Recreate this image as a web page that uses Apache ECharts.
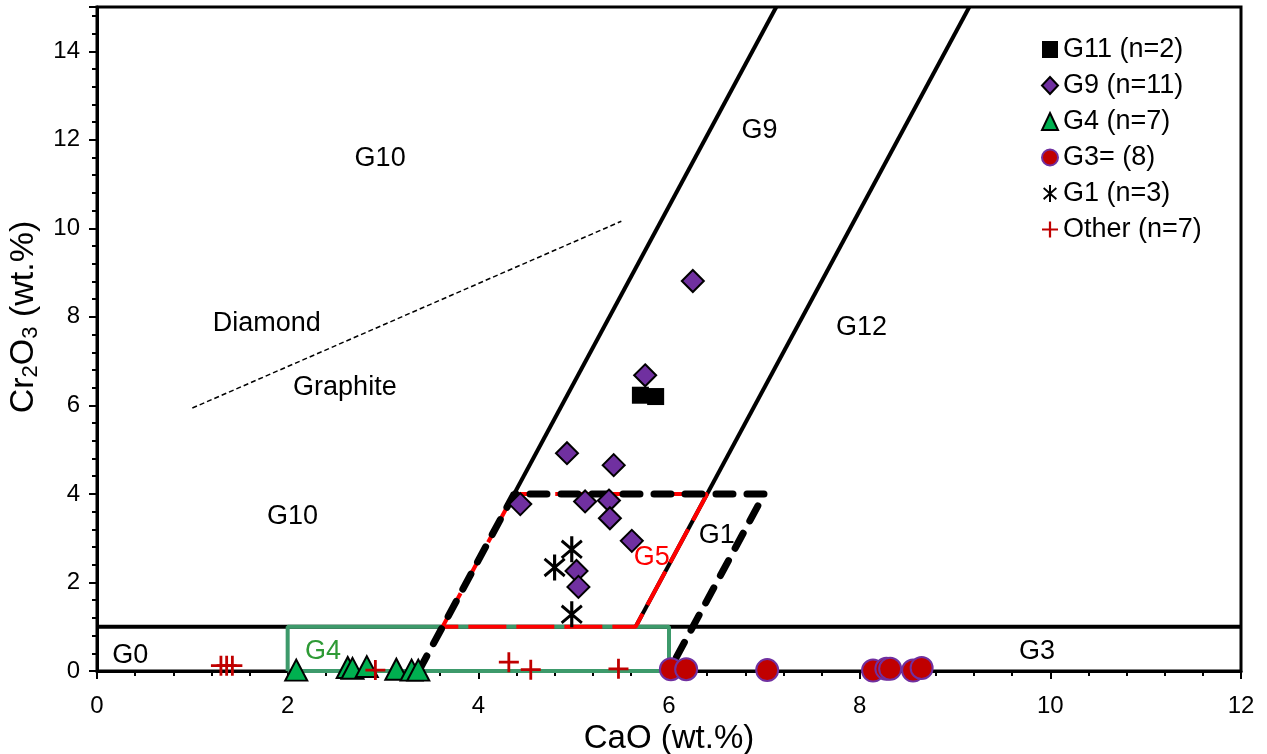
<!DOCTYPE html>
<html>
<head>
<meta charset="utf-8">
<script src="https://cdn.jsdelivr.net/npm/echarts@6/dist/echarts.min.js"></script>
<style>
  html, body { margin: 0; padding: 0; background: #fff; }
  #chart { width: 1267px; height: 754px; }
</style>
</head>
<body>
<div id="chart"></div>
<script>
// garnet analyses, [CaO, Cr2O3] wt.%
const g11 = [[5.70, 6.23], [5.86, 6.20]];
const g9 = [[6.25, 8.81], [5.75, 6.68], [4.93, 4.92], [5.42, 4.65], [4.44, 3.77], [5.12, 3.83],
  [5.37, 3.85], [5.38, 3.45], [5.61, 2.94], [5.03, 2.26], [5.05, 1.90]];
const g4 = [[2.09, 0.02], [2.63, 0.08], [2.68, 0.06], [2.83, 0.10], [3.14, 0.04], [3.30, 0.02], [3.37, 0.02]];
const g3 = [[6.02, 0.04], [6.18, 0.04], [7.03, 0.02], [8.14, 0.01], [8.28, 0.05], [8.32, 0.05], [8.56, 0.01], [8.65, 0.07]];
const g1 = [[4.98, 2.75], [4.80, 2.34], [4.98, 1.28]];
const other = [[1.30, 0.12], [1.36, 0.12], [1.42, 0.12], [2.92, 0.02], [4.32, 0.20], [4.55, 0.03], [5.47, 0.05]];

// classification field boundaries
const g10Line = [[4.375, 4], [7.125, 15]];
const g12Line = [[5.65, 1], [9.15, 15]];
const crLine = [[0, 1], [12, 1]];
const g4Box = [[2, 0], [2, 1], [6, 1], [6, 0], [2, 0]];
const g5Box = [[3.625, 1], [4.375, 4], [6.4, 4], [5.65, 1], [3.625, 1]];
const g1Box = [[3.375, 0], [4.375, 4], [7.0, 4], [6.0, 0]];
const diamondLine = [[1.0, 5.94], [5.5, 10.16]];

// field labels
const zoneText = ['G10', 'G10', 'G9', 'G12', 'G1', 'G5', 'G4', 'G0', 'G3', 'Diamond', 'Graphite'];
const zoneX = [2.97, 2.05, 6.95, 8.02, 6.50, 5.82, 2.37, 0.35, 9.86, 1.78, 2.60];
const zoneY = [11.58, 3.50, 12.20, 7.77, 3.07, 2.57, 0.43, 0.34, 0.45, 7.86, 6.41];

const seriesNames = ['G11 (n=2)', 'G9 (n=11)', 'G4 (n=7)', 'G3= (8)', 'G1 (n=3)', 'Other (n=7)'];

const FONT = 'Liberation Sans, Arial, sans-serif';
const zoneColor = { G5: '#ff0000', G4: '#2e9a35' };

const asterisk = 'path://M4.3,0H5.7V12H4.3Z M0.1,2.6L0.9,1.5L9.9,9.4L9.1,10.5Z M9.1,1.5L9.9,2.6L0.9,10.5L0.1,9.4Z';
const plus = 'path://M0,4.3H10V5.7H0Z M4.3,0H5.7V10H4.3Z';

function boundary(data, style, z) {
  return { type: 'line', data, symbol: 'none', silent: true, clip: false, z, lineStyle: style };
}

function points(name, data, symbol, size, itemStyle) {
  return { type: 'scatter', name, data, symbol, symbolSize: size, itemStyle: { opacity: 1, ...itemStyle }, z: 10 };
}

const chart = echarts.init(document.getElementById('chart'));

chart.setOption({
  animation: false,
  backgroundColor: '#fff',
  textStyle: { fontFamily: FONT },
  grid: {
    left: 97, right: 26, top: 7, bottom: 83, outerBoundsMode: 'none',
    show: true, borderColor: '#000', borderWidth: 3
  },
  xAxis: {
    type: 'value', min: 0, max: 12, interval: 2,
    name: 'CaO (wt.%)', nameLocation: 'middle', nameGap: 48,
    nameTextStyle: { fontSize: 33, color: '#000', fontFamily: FONT },
    axisLine: { lineStyle: { color: '#000', width: 3 } },
    axisTick: { length: 8, lineStyle: { color: '#000', width: 2 } },
    minorTick: { show: true, splitNumber: 5, length: 5, lineStyle: { color: '#000', width: 2 } },
    axisLabel: { fontSize: 24, color: '#000', margin: 23, fontFamily: FONT },
    splitLine: { show: false }
  },
  yAxis: {
    type: 'value', min: 0, max: 15, interval: 2,
    name: '{t|Cr}{s|2}{t|O}{s|3}{t| (wt.%)}', nameLocation: 'middle', nameGap: 36,
    nameTextStyle: {
      padding: [0, 0, 0, 44],
      rich: {
        t: { fontSize: 34, color: '#000', fontFamily: FONT },
        s: { fontSize: 22, color: '#000', fontFamily: FONT, padding: [16, 0, 0, 0] }
      }
    },
    axisLine: { lineStyle: { color: '#000', width: 3 } },
    axisTick: { length: 8, lineStyle: { color: '#000', width: 2 } },
    minorTick: { show: true, splitNumber: 5, length: 5, lineStyle: { color: '#000', width: 2 } },
    axisLabel: { fontSize: 24, color: '#000', margin: 17, fontFamily: FONT,
      formatter: v => (v === 15 ? '' : v) },
    splitLine: { show: false }
  },
  legend: {
    data: seriesNames,
    orient: 'vertical', left: 1036, top: 31, itemGap: 9,
    itemWidth: 16, itemHeight: 17,
    textStyle: { fontSize: 27, color: '#000', fontFamily: FONT }
  },
  series: [
    boundary(crLine, { color: '#000', width: 4 }, 1),
    boundary(g10Line, { color: '#000', width: 4 }, 1),
    boundary(g12Line, { color: '#000', width: 4 }, 1),
    boundary(diamondLine, { color: '#000', width: 1.5, type: [5, 3] }, 1),
    boundary(g4Box, { color: '#3d9a6b', width: 4 }, 2),
    boundary(g5Box, { color: '#ff0000', width: 4, type: [38, 10] }, 3),
    boundary(g1Box, { color: '#000', width: 7, type: [17, 14], cap: 'round' }, 4),
    {
      type: 'scatter', silent: true, symbolSize: 0, z: 5,
      itemStyle: { opacity: 1 },
      data: zoneText.map((t, i) => ({
        value: [zoneX[i], zoneY[i]],
        label: { color: zoneColor[t] || '#000' }
      })),
      label: {
        show: true, position: 'inside', fontSize: 27, fontFamily: FONT,
        formatter: p => zoneText[p.dataIndex]
      }
    },
    points(seriesNames[0], g11, 'rect', 17, { color: '#000' }),
    points(seriesNames[1], g9, 'diamond', 22, { color: '#7030a0', borderColor: '#000', borderWidth: 2 }),
    points(seriesNames[2], g4, 'triangle', [22, 21], { color: '#00b050', borderColor: '#000', borderWidth: 2 }),
    points(seriesNames[3], g3, 'circle', 22, { color: '#c00000', borderColor: '#7030a0', borderWidth: 2 }),
    points(seriesNames[4], g1, asterisk, [22, 26], { color: '#000' }),
    points(seriesNames[5], other, plus, 20, { color: '#c00000' })
  ]
});
</script>
</body>
</html>
